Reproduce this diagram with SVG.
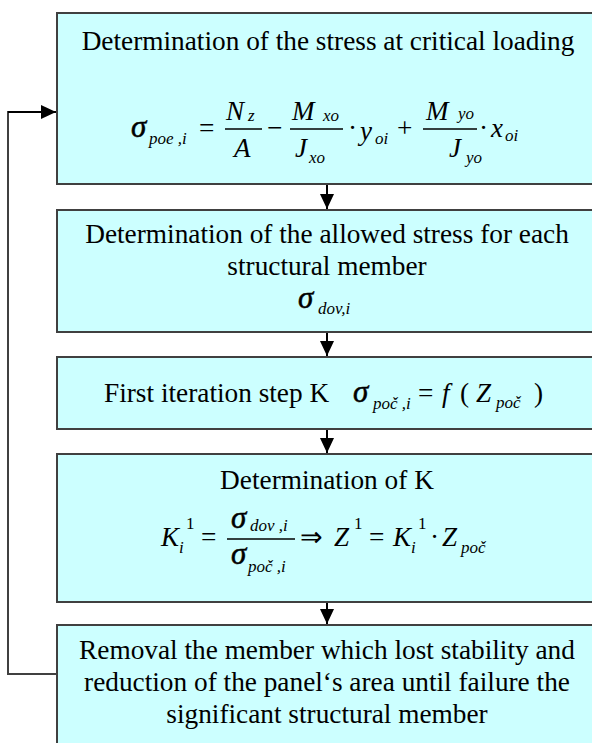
<svg xmlns="http://www.w3.org/2000/svg" width="592" height="743" viewBox="0 0 592 743">
<style>
.box{fill:#ccffff;stroke:#404040;stroke-width:2}
.t{font-family:"Liberation Serif","Times New Roman",serif;font-size:27.3px;fill:#000}
.c{text-anchor:middle}
.m{font-family:"Liberation Serif","Times New Roman",serif;font-size:27px;font-style:italic;fill:#000}
.g{font-family:"Liberation Serif","Times New Roman",serif;font-size:31px;font-style:italic;fill:#000;stroke:#000;stroke-width:0.5}
.s{font-family:"Liberation Serif","Times New Roman",serif;font-size:17px;font-style:italic;fill:#000}
.sr{font-family:"Liberation Serif","Times New Roman",serif;font-size:17px;fill:#000}
.fl{stroke:#000;stroke-width:1.5}
.conn{fill:none;stroke:#000;stroke-width:2}
.loop{fill:none;stroke:#404040;stroke-width:2}
</style>
<defs>
<marker id="ah" markerUnits="userSpaceOnUse" markerWidth="15" markerHeight="14" refX="15" refY="7" orient="auto">
<path d="M0,0 L15,7 L0,14 z" fill="#000"/>
</marker>
</defs>

<g id="connectors">
<line class="conn" x1="327" y1="185" x2="327" y2="209" marker-end="url(#ah)"/>
<line class="conn" x1="327" y1="333" x2="327" y2="356" marker-end="url(#ah)"/>
<line class="conn" x1="327" y1="430" x2="327" y2="453" marker-end="url(#ah)"/>
<line class="conn" x1="327" y1="603" x2="327" y2="624" marker-end="url(#ah)"/>
<polyline class="loop" points="56,674 8,674 8,112 30,112"/>
<line class="conn" x1="8" y1="112" x2="56" y2="112" marker-end="url(#ah)"/>
</g>

<g id="node1">
<rect class="box" x="57" y="13" width="545" height="171"/>
<text class="t c" x="328" y="50">Determination of the stress at critical loading</text>
<text class="g" x="131" y="137">σ</text>
<text class="s" x="149" y="144">poe ,i</text>
<text class="t" x="199" y="137">=</text>
<text class="m" x="226" y="120">N</text>
<text class="s" x="248" y="121">z</text>
<line class="fl" x1="225" y1="129" x2="262" y2="129"/>
<text class="m" x="234" y="157">A</text>
<text class="t" x="267" y="137">−</text>
<text class="m" x="292" y="120">M</text>
<text class="s" x="323" y="121">xo</text>
<line class="fl" x1="290" y1="129" x2="343" y2="129"/>
<text class="m" x="295" y="157">J</text>
<text class="s" x="309" y="163">xo</text>
<text class="t" x="348" y="137">·</text>
<text class="m" x="360" y="140">y</text>
<text class="s" x="375" y="144">oi</text>
<text class="t" x="397" y="137">+</text>
<line class="fl" x1="423" y1="129" x2="477" y2="129"/>
<text class="m" x="426" y="120">M</text>
<text class="s" x="458" y="119">yo</text>
<text class="m" x="449" y="157">J</text>
<text class="s" x="466" y="163">yo</text>
<text class="t" x="479" y="137">·</text>
<text class="m" x="491" y="137">x</text>
<text class="s" x="505" y="141">oi</text>
</g>

<g id="node2">
<rect class="box" x="57" y="210" width="545" height="122"/>
<text class="t c" x="327" y="243">Determination of the allowed stress for each</text>
<text class="t c" x="327" y="275">structural member</text>
<text class="g" x="298" y="308">σ</text>
<text class="s" x="318" y="314">dov,i</text>
</g>

<g id="node3">
<rect class="box" x="57" y="357" width="545" height="72"/>
<text class="t" x="104" y="402">First iteration step K</text>
<text class="g" x="353" y="402">σ</text>
<text class="s" x="373" y="409">poč ,i</text>
<text class="t" x="418" y="402">=</text>
<text class="m" x="442" y="402">f</text>
<text class="t" x="460" y="402">(</text>
<text class="m" x="476" y="402">Z</text>
<text class="s" x="496" y="408">poč</text>
<text class="t" x="534" y="402">)</text>
</g>

<g id="node4">
<rect class="box" x="57" y="454" width="545" height="148"/>
<text class="t c" x="327" y="489">Determination of K</text>
<text class="m" x="161" y="546">K</text>
<text class="s" x="179" y="553">i</text>
<text class="sr" x="186" y="529">1</text>
<text class="t" x="201" y="546">=</text>
<text class="g" x="231" y="528">σ</text>
<text class="s" x="250" y="531">dov ,i</text>
<line class="fl" x1="227" y1="539" x2="295" y2="539"/>
<text class="g" x="231" y="564">σ</text>
<text class="s" x="248" y="572">poč ,i</text>
<text class="t" x="300" y="546">⇒</text>
<text class="m" x="334" y="546">Z</text>
<text class="sr" x="354" y="529">1</text>
<text class="t" x="369" y="546">=</text>
<text class="m" x="393" y="546">K</text>
<text class="s" x="411" y="553">i</text>
<text class="sr" x="418" y="529">1</text>
<text class="t" x="430" y="546">·</text>
<text class="m" x="442" y="546">Z</text>
<text class="s" x="461" y="553">poč</text>
</g>

<g id="node5">
<rect class="box" x="57" y="625" width="545" height="130"/>
<text class="t c" x="327" y="659">Removal the member which lost stability and</text>
<text class="t c" x="327" y="691">reduction of the panel‘s area until failure the</text>
<text class="t c" x="327" y="723">significant structural member</text>
</g>
</svg>
